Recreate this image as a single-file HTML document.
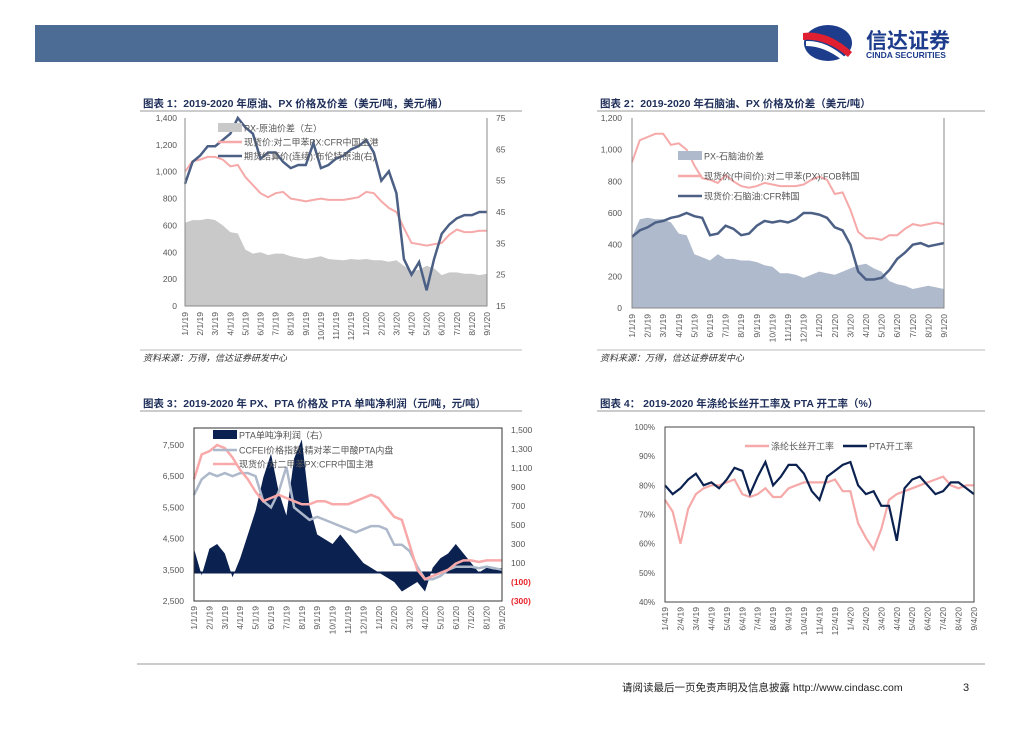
<!DOCTYPE html>
<html><head><meta charset="utf-8"><style>
body{margin:0;width:1024px;height:724px;background:#fff;overflow:hidden;font-family:"Liberation Sans","Noto Sans CJK SC",sans-serif}
svg text{font-family:"Liberation Sans","Noto Sans CJK SC",sans-serif}
</style></head><body>
<svg id="pg" width="1024" height="724">
<rect x="35" y="25" width="743" height="37" fill="#4d6c95"/>
<g>
<ellipse cx="828" cy="43" rx="24" ry="18" fill="#1d3c8c"/>
<path d="M803 33 Q828 30 852 52 L848 57 Q826 38 803 40Z" fill="#e02030"/>
<path d="M806 41 Q826 40 846 58 L842 60 Q824 46 806 46Z" fill="#fff"/>
<text x="866" y="48" font-size="21" font-weight="bold" fill="#1d3c8c">信达证券</text>
<text x="866" y="58" font-size="8.5" font-weight="bold" fill="#1d3c8c">CINDA SECURITIES</text>
</g>
<text x="143" y="107" font-size="10.5" font-weight="bold" fill="#1f2f5a">图表 1：2019-2020 年原油、PX 价格及价差（美元/吨，美元/桶）</text>
<line x1="140" y1="111" x2="522" y2="111" stroke="#999"/>
<text x="600" y="107" font-size="10.5" font-weight="bold" fill="#1f2f5a">图表 2：2019-2020 年石脑油、PX 价格及价差（美元/吨）</text>
<line x1="597" y1="111" x2="985" y2="111" stroke="#999"/>
<text x="143" y="407" font-size="10.5" font-weight="bold" fill="#1f2f5a">图表 3：2019-2020 年 PX、PTA 价格及 PTA 单吨净利润（元/吨，元/吨）</text>
<line x1="140" y1="411" x2="522" y2="411" stroke="#999"/>
<text x="600" y="407" font-size="10.5" font-weight="bold" fill="#1f2f5a">图表 4：  2019-2020 年涤纶长丝开工率及 PTA 开工率（%）</text>
<line x1="597" y1="411" x2="985" y2="411" stroke="#999"/>
<line x1="140" y1="350" x2="522" y2="350" stroke="#bbb"/>
<text x="143" y="361" font-size="9" font-style="italic" fill="#333">资料来源：万得，信达证券研发中心</text>
<line x1="597" y1="350" x2="985" y2="350" stroke="#bbb"/>
<text x="600" y="361" font-size="9" font-style="italic" fill="#333">资料来源：万得，信达证券研发中心</text>
<line x1="137" y1="664" x2="985" y2="664" stroke="#999"/>
<text x="622" y="691" font-size="10.5" fill="#222">请阅读最后一页免责声明及信息披露 http://www.cindasc.com</text>
<text x="963" y="691" font-size="11" fill="#222">3</text>
</svg>
<script>
const xLabels19=["1/1/19","2/1/19","3/1/19","4/1/19","5/1/19","6/1/19","7/1/19","8/1/19","9/1/19","10/1/19","11/1/19","12/1/19","1/1/20","2/1/20","3/1/20","4/1/20","5/1/20","6/1/20","7/1/20","8/1/20","9/1/20"];
const xLabels4=["1/4/19","2/4/19","3/4/19","4/4/19","5/4/19","6/4/19","7/4/19","8/4/19","9/4/19","10/4/19","11/4/19","12/4/19","1/4/20","2/4/20","3/4/20","4/4/20","5/4/20","6/4/20","7/4/20","8/4/20","9/4/20"];
// chart 1
const c1Spread=[620,640,640,650,640,600,550,540,420,390,400,380,390,390,370,360,350,360,370,350,345,340,350,345,350,340,340,330,340,300,260,270,300,280,230,250,250,240,240,230,240];
const c1PX=[1000,1080,1090,1110,1110,1090,1040,1050,960,900,840,810,840,850,800,790,780,790,800,790,790,790,800,810,850,840,780,730,700,580,470,460,450,460,470,530,570,550,550,560,560];
const c1Brent=[54,61,63,66,66,68,70,75,72,70,62,64,64,61,59,60,60,67,59,60,62,63,65,66,68,64,55,58,51,30,25,29,20,30,38,41,43,44,44,45,45];
const c1LeftTicks=[0,200,400,600,800,1000,1200,1400];
const c1RightTicks=[15,25,35,45,55,65,75];
// chart 2
const c2Spread=[450,560,570,560,560,540,470,460,340,320,300,340,310,310,300,300,290,270,260,220,220,210,190,210,230,220,210,230,250,270,280,250,230,170,150,140,120,130,140,130,120];
const c2PX=[920,1060,1080,1100,1100,1030,1040,1000,900,820,810,790,840,800,770,760,770,790,780,770,770,770,780,810,830,810,720,730,620,480,440,440,430,460,460,500,530,520,530,540,530];
const c2Naphtha=[450,490,510,540,550,570,580,600,580,570,460,470,520,500,460,470,520,550,540,550,540,560,600,600,590,570,510,490,400,230,180,180,190,240,310,350,400,410,390,400,410];
const c2Ticks=[0,200,400,600,800,1000,1200];
// chart 3
const c3PX=[6400,7200,7300,7500,7400,7100,6700,6400,6000,5700,5800,5900,5800,5700,5600,5600,5700,5700,5600,5600,5600,5700,5800,5900,5800,5500,5200,5100,4300,3500,3200,3300,3400,3500,3700,3800,3800,3750,3800,3800,3800];
const c3PTA=[5900,6400,6600,6500,6600,6500,6600,6600,6500,5700,5500,6000,6800,5500,5300,5100,5200,5100,5000,4900,4800,4700,4800,4900,4900,4800,4300,4300,4100,3600,3200,3200,3300,3500,3600,3600,3600,3550,3600,3550,3500];
const c3Profit=[250,-30,250,300,200,-50,150,400,650,1000,1250,850,600,1200,1400,700,400,350,300,400,300,200,100,50,0,-50,-100,-200,-150,-100,-200,50,150,200,300,200,100,0,50,30,50];
const c3LeftTicks=[2500,3500,4500,5500,6500,7500];
const c3RightTicks=[-300,-100,100,300,500,700,900,1100,1300,1500];
// chart 4
const c4Polyester=[75,71,60,72,77,79,80,80,81,82,77,76,77,79,76,76,79,80,81,81,81,81,82,78,78,67,62,58,65,75,77,78,79,80,81,82,83,80,79,80,80];
const c4PTA=[80,77,79,82,84,80,81,79,82,86,85,77,83,88,80,83,87,87,84,78,75,83,85,87,88,80,77,78,73,73,61,79,82,83,80,77,78,81,81,79,77];
const c4Ticks=[40,50,60,70,80,90,100];

const NS="http://www.w3.org/2000/svg";
const pg=document.getElementById('pg');
function mk(tag,attrs,parent){const e=document.createElementNS(NS,tag);for(const k in attrs)e.setAttribute(k,attrs[k]);(parent||pg).appendChild(e);return e;}
function scale(d0,d1,r0,r1){return v=>r0+(v-d0)/(d1-d0)*(r1-r0);}
function fmt(v){const a=Math.abs(v).toLocaleString('en-US');return v<0?'('+a+')':a;}
function path(vals,xs,ys){return vals.map((v,i)=>(i?'L':'M')+xs(i).toFixed(1)+' '+ys(v).toFixed(1)).join(' ');}
function xAxisLabels(labels,x0,x1,yTop,name){labels.forEach((l,i)=>{const x=x0+i*(x1-x0)/(labels.length-1);const t=mk('text',{x:0,y:0,'font-size':8.5,fill:'#555','text-anchor':'end',transform:`translate(${x+3},${yTop}) rotate(-90)`});t.textContent=l;

});}
function yTicks(ticks,ys,x,anchor,name,colorFn){ticks.forEach(v=>{const t=mk('text',{x:x,y:ys(v)+3,'font-size':8.5,fill:colorFn?colorFn(v):'#555','text-anchor':anchor,'font-weight':colorFn&&v<0?'bold':'normal'});t.textContent=fmt(v);

});}
function legendItem(x,y,type,color,label,name){let e;if(type==='box')e=mk('rect',{x:x,y:y-5,width:24,height:9,fill:color});else e=mk('line',{x1:x,y1:y,x2:x+24,y2:y,stroke:color,'stroke-width':2.5});


const t=mk('text',{x:x+26,y:y+3.5,'font-size':9,fill:'#555'});t.textContent=label;

}

// ---- Chart 1
(function(){const X0=185,X1=487,Y0=306,Y1=118;const n=c1PX.length;
const xs=i=>X0+i*(X1-X0)/(n-1);const yl=scale(0,1400,Y0,Y1);const yr=scale(15,75,Y0,Y1);
const a=mk('path',{d:path(c1Spread,xs,yl)+` L${X1} ${Y0} L${X0} ${Y0} Z`,fill:'#c9c9c9'});


const p=mk('path',{d:path(c1PX,xs,yl),fill:'none',stroke:'#f6a9a9','stroke-width':2});


const b=mk('path',{d:path(c1Brent,xs,yr),fill:'none',stroke:'#4c6086','stroke-width':2.5});


const ax=mk('path',{d:`M${X0} ${Y1} L${X0} ${Y0} L${X1} ${Y0} L${X1} ${Y1}`,fill:'none',stroke:'#888'});


yTicks(c1LeftTicks,yl,177,'end','chart1-left');yTicks(c1RightTicks,yr,496,'start','chart1-right');
xAxisLabels(xLabels19,X0,X1,312,'chart1');
legendItem(218,128,'box','#c9c9c9','PX-原油价差（左）','chart1-legend-spread');
legendItem(218,142,'line','#f6a9a9','现货价:对二甲苯PX:CFR中国主港','chart1-legend-px');
legendItem(218,156,'line','#4c6086','期货结算价(连续):布伦特原油(右)','chart1-legend-brent');})();

// ---- Chart 2
(function(){const X0=632,X1=944,Y0=308,Y1=118;const n=c2PX.length;
const xs=i=>X0+i*(X1-X0)/(n-1);const y=scale(0,1200,Y0,Y1);
const a=mk('path',{d:path(c2Spread,xs,y)+` L${X1} ${Y0} L${X0} ${Y0} Z`,fill:'#afbacc'});


const p=mk('path',{d:path(c2PX,xs,y),fill:'none',stroke:'#f6a9a9','stroke-width':2});


const b=mk('path',{d:path(c2Naphtha,xs,y),fill:'none',stroke:'#4c6086','stroke-width':2.5});


const ax=mk('path',{d:`M${X0} ${Y1} L${X0} ${Y0} L${X1} ${Y0} L${X1} ${Y1}`,fill:'none',stroke:'#888'});


yTicks(c2Ticks,y,622,'end','chart2-y');
xAxisLabels(xLabels19,X0,X1,314,'chart2');
legendItem(678,156,'box','#afbacc','PX-石脑油价差','chart2-legend-spread');
legendItem(678,176,'line','#f6a9a9','现货价(中间价):对二甲苯(PX):FOB韩国','chart2-legend-px');
legendItem(678,196,'line','#4c6086','现货价:石脑油:CFR韩国','chart2-legend-naphtha');})();

// ---- Chart 3
(function(){const X0=194,X1=502,Y0=601,Y1=428;const n=c3PX.length;
const xs=i=>X0+i*(X1-X0)/(n-1);const yl=scale(2500,7500,601,445);const yr=scale(-300,1500,601,430);
const z0=yr(0);
const ar=mk('path',{d:path(c3Profit,xs,yr)+` L${X1} ${z0} L${X0} ${z0} Z`,fill:'#0b2150'});


const z=mk('line',{x1:X0,y1:z0,x2:X1,y2:z0,stroke:'#0b2150','stroke-width':2});


const g=mk('path',{d:path(c3PTA,xs,yl),fill:'none',stroke:'#adb9ca','stroke-width':2.5});


const p=mk('path',{d:path(c3PX,xs,yl),fill:'none',stroke:'#f9a9a9','stroke-width':2.5});


const bx=mk('rect',{x:X0,y:Y1,width:X1-X0,height:Y0-Y1,fill:'none',stroke:'#333'});


yTicks(c3LeftTicks,yl,184,'end','chart3-left');
yTicks(c3RightTicks,yr,511,'start','chart3-right',v=>v<0?'#e8232a':'#555');
xAxisLabels(xLabels19,X0,X1,606,'chart3');
legendItem(213,435,'box','#0b2150','PTA单吨净利润（右）','chart3-legend-profit');
legendItem(213,450,'line','#adb9ca','CCFEI价格指数:精对苯二甲酸PTA内盘','chart3-legend-ccfei');
legendItem(213,464,'line','#f9a9a9','现货价:对二甲苯PX:CFR中国主港','chart3-legend-px');})();

// ---- Chart 4
(function(){const X0=665,X1=974,Y0=602,Y1=427;const n=c4PTA.length;
const xs=i=>X0+i*(X1-X0)/(n-1);const y=scale(40,100,Y0,Y1);
const p=mk('path',{d:path(c4Polyester,xs,y),fill:'none',stroke:'#f6a9a9','stroke-width':2.2});


const b=mk('path',{d:path(c4PTA,xs,y),fill:'none',stroke:'#0b2150','stroke-width':2.2});


const bx=mk('rect',{x:X0,y:Y1,width:X1-X0,height:Y0-Y1,fill:'none',stroke:'#444'});


c4Ticks.forEach(v=>{const t=mk('text',{x:655,y:y(v)+3,'font-size':8,fill:'#555','text-anchor':'end'});t.textContent=v+'%';

});
xAxisLabels(xLabels4,X0,X1,607,'chart4');
legendItem(745,446,'line','#f6a9a9','涤纶长丝开工率','chart4-legend-polyester');
legendItem(843,446,'line','#0b2150','PTA开工率','chart4-legend-pta');})();
</script>
</body></html>
